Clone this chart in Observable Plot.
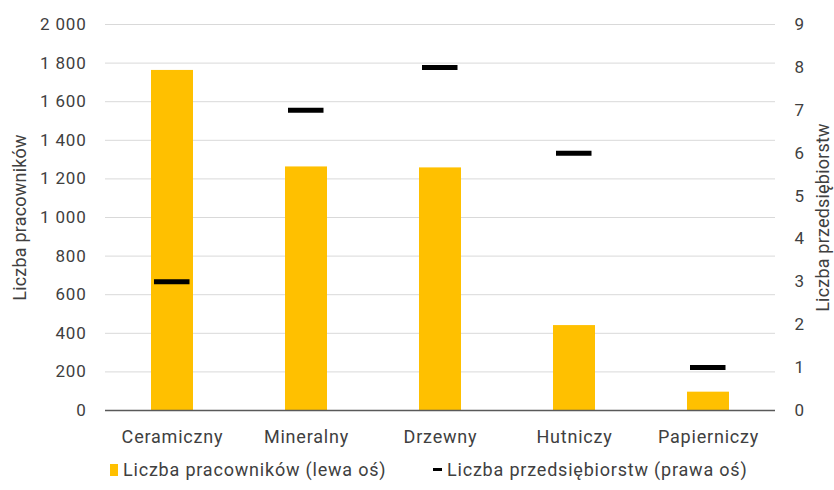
<!DOCTYPE html>
<html><head><meta charset="utf-8">
<script src="https://cdn.jsdelivr.net/npm/d3@7"></script>
<script src="https://cdn.jsdelivr.net/npm/@observablehq/plot@0.6"></script>
<style>
body{margin:0;background:#fff;font-family:Roboto,"Noto Sans",sans-serif;}
#legend{font-size:18px;letter-spacing:0.8px;color:#404040;height:38px;position:relative;}
.item{display:flex;align-items:center;position:absolute;top:7px;}
svg text{letter-spacing:0.8px;}
svg text.rot{letter-spacing:0.2px;}
</style></head><body>
<div id="chart"></div>
<div id="legend"></div>
<script>
const branches = ["Ceramiczny","Mineralny","Drzewny","Hutniczy","Papierniczy"];
const employees = [1762,1262,1257,440,95];
const firms = [3,7,8,6,1];
const leftTicks = [0,200,400,600,800,1000,1200,1400,1600,1800,2000];
const rightTicks = [0,1,2,3,4,5,6,7,8,9];
const leftMax = 2000, rightMax = 9;
const k = leftMax/rightMax;
const data = branches.map((b,i)=>({branch:b, emp:employees[i], firms:firms[i]}));
const fmt = d => d3.format(",")(d).replace(/,/g," ");
const W=834, H=452;
const plot = Plot.plot({
  width:W, height:H,
  marginLeft:105, marginRight:59, marginTop:24, marginBottom:42,
  style:{fontFamily:"Roboto, sans-serif", fontSize:"18px", color:"#404040", background:"#fff"},
  x:{domain:branches, paddingInner:0.69, paddingOuter:0.345, label:null},
  y:{domain:[0,leftMax], label:null},
  marks:[
    Plot.ruleY(leftTicks.slice(1), {stroke:"#d9d9d9", strokeWidth:1}),
    Plot.barY(data, {x:"branch", y:"emp", fill:"#FFC000"}),
    Plot.ruleY([0], {stroke:"#595959", strokeWidth:1.5}),
    Plot.tickY(data, {x:"branch", y:d=>d.firms*k, stroke:"#000", strokeWidth:5, insetLeft:3, insetRight:3.5}),
    Plot.axisX({tickSize:0, tickPadding:20, fontSize:18, label:null}),
    Plot.axisY({ticks:leftTicks, tickSize:0, tickPadding:19, tickFormat:fmt, fontSize:17, label:null}),
    Plot.axisY(rightTicks.map(t=>t*k), {anchor:"right", tickSize:0, tickPadding:19, tickFormat:d=>Math.round(d/k), fontSize:17, label:null}),
    Plot.text(["Liczba pracowników"], {frameAnchor:"left", textAnchor:"middle", dx:-85, rotate:-90, fontSize:18, fill:"#404040"}),
    Plot.text(["Liczba przedsiębiorstw"], {frameAnchor:"right", textAnchor:"middle", dx:48, rotate:-90, fontSize:18, fill:"#404040"})
  ]
});
document.getElementById("chart").appendChild(plot);
d3.select(plot).selectAll("text").filter(function(){return /Liczba/.test(this.textContent);}).classed("rot", true);
const leg = document.getElementById("legend");
leg.innerHTML = `<div class="item" style="left:110px"><span style="display:inline-block;width:8px;height:12px;background:#FFC000;margin-right:5px"></span>Liczba pracowników (lewa oś)</div>
<div class="item" style="left:433px"><span style="display:inline-block;width:9px;height:3px;background:#000;margin-right:5px"></span>Liczba przedsiębiorstw (prawa oś)</div>`;
</script>
</body></html>
